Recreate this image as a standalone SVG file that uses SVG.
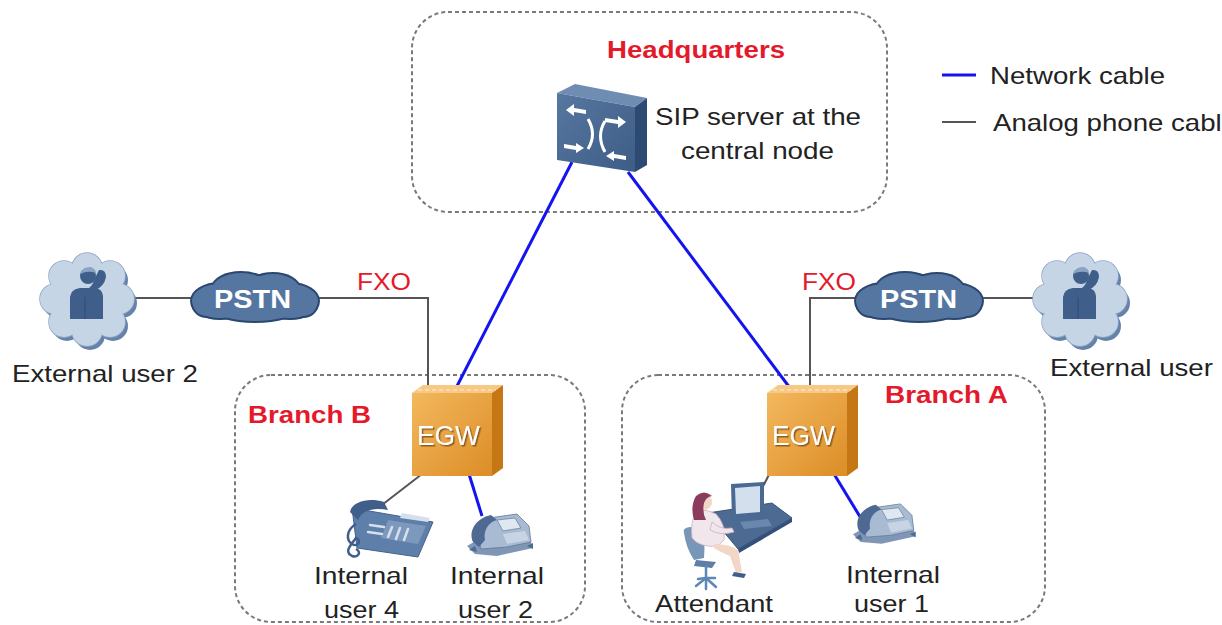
<svg xmlns="http://www.w3.org/2000/svg" xmlns:xlink="http://www.w3.org/1999/xlink" width="1222" height="625" viewBox="0 0 1222 625">
  <style>
    .zone { fill: none; stroke: #7a7a7a; stroke-width: 2; stroke-dasharray: 4 3; }
    .lbl { font-family: "Liberation Sans", Arial, sans-serif; font-size: 24px; fill: #222; }
    .red { font-family: "Liberation Sans", Arial, sans-serif; font-size: 24px; fill: #e4192b; }
    .redb { font-family: "Liberation Sans", Arial, sans-serif; font-size: 23px; font-weight: bold; fill: #e4192b; }
    .net { stroke: #1414f0; stroke-width: 3; fill: none; }
    .analog { stroke: #555; stroke-width: 2; fill: none; }
    .pstn-txt { font-family: "Liberation Sans", Arial, sans-serif; font-size: 25px; font-weight: bold; fill: #fff; }
    .egw-txt { font-family: "Liberation Sans", Arial, sans-serif; font-size: 27px; fill: #fff; }
  </style>
  <defs>
    <linearGradient id="egwFront" x1="0" y1="0" x2="1" y2="1">
      <stop offset="0" stop-color="#f3b85e"/>
      <stop offset="1" stop-color="#dc8d26"/>
    </linearGradient>
    <linearGradient id="swFront" x1="0" y1="0" x2="1" y2="1">
      <stop offset="0" stop-color="#5877a0"/>
      <stop offset="1" stop-color="#3e5d86"/>
    </linearGradient>
    <filter id="txtShadow" x="-10%" y="-10%" width="130%" height="140%">
      <feDropShadow dx="1.5" dy="1.5" stdDeviation="0.6" flood-color="#7a4a10" flood-opacity="0.8"/>
    </filter>
    <!-- PSTN cloud blobs -->
    <g id="pstnBlobs">
      <ellipse cx="0" cy="0" rx="50" ry="22"/>
      <ellipse cx="-35" cy="3" rx="28" ry="17"/>
      <ellipse cx="35" cy="3" rx="28" ry="17"/>
      <ellipse cx="-14" cy="-10" rx="28" ry="15"/>
      <ellipse cx="18" cy="-9" rx="26" ry="15"/>
      <ellipse cx="-48" cy="5" rx="14" ry="13"/>
      <ellipse cx="48" cy="5" rx="14" ry="13"/>
      <ellipse cx="0" cy="10" rx="42" ry="13"/>
    </g>
    <!-- puffy cloud behind a caller -->
    <g id="userBlobs">
      <circle cx="0" cy="0" r="34"/>
      <circle cx="0" cy="-31" r="15"/>
      <circle cx="23" cy="-23" r="15"/>
      <circle cx="32" cy="0" r="15"/>
      <circle cx="23" cy="23" r="15"/>
      <circle cx="0" cy="32" r="15"/>
      <circle cx="-23" cy="23" r="15"/>
      <circle cx="-32" cy="0" r="15"/>
      <circle cx="-23" cy="-23" r="15"/>
    </g>
    <g id="caller">
      <use xlink:href="#userBlobs" transform="translate(3,4)" fill="#6583aa"/>
      <use xlink:href="#userBlobs" fill="#c6d5e5" stroke="#8ea8c6" stroke-width="1.5"/>
      <use xlink:href="#userBlobs" fill="#c6d5e5"/>
      <!-- person on the phone -->
      <path d="M-17,20 L-17,-2 Q-16,-10 -7,-11 L9,-11 Q15,-10 16,-3 L16,20 Z" fill="#3f5f8a"/>
      <path d="M8,-9 Q17,-12 19,-22 Q19,-30 12,-29 L8,-21 Q6,-14 2,-11 Z" fill="#3f5f8a"/>
      <circle cx="1" cy="-23" r="8" fill="#3f5f8a"/>
      <path d="M-7,-25 Q-4,-33 4,-32 Q9,-30 9,-26 Q1,-29 -7,-25 Z" fill="#8aa4c4"/>
      <path d="M-2,-2 L-2,20" stroke="#2e4a70" stroke-width="1"/>
    </g>
    <!-- compact desk phone -->
    <g id="phoneSmall">
      <path d="M0,34 L14,26 L40,22 L64,30 L66,36 L30,44 L8,42 Z" fill="#7f96b6"/>
      <path d="M10,22 L22,6 L50,2 L62,14 L64,30 L40,35 L14,37 Z" fill="#a9bbd2" stroke="#5f7898" stroke-width="0.8"/>
      <path d="M30,8 L48,6 L54,16 L36,19 Z" fill="#dfe7f1" stroke="#6c84a4" stroke-width="0.8"/>
      <path d="M36,22 L58,19 L62,28 L40,32 Z" fill="#c7d4e4"/>
      <path d="M6,30 C1,19 9,6 24,3 L30,8 C22,10 16,18 18,28 L12,35 Z" fill="#4e6a92"/>
      <path d="M2,38 L8,34 L10,40 Z" fill="#4e6a92"/>
      <path d="M60,34 L66,31 L66,37 Z" fill="#4e6a92"/>
    </g>
  </defs>

  <rect width="1222" height="625" fill="#fff"/>

  <!-- zones -->
  <g id="zones">
    <rect class="zone" x="412" y="12" width="475" height="200" rx="36"/>
    <rect class="zone" x="235" y="375" width="350" height="247" rx="36"/>
    <rect class="zone" x="622" y="375" width="423" height="247" rx="36"/>
  </g>

  <!-- connectors -->
  <g id="connectors">
    <line class="net" x1="572" y1="162" x2="455" y2="390"/>
    <line class="net" x1="628" y1="172" x2="790" y2="388"/>
    <polyline class="analog" points="135,298 193,298"/>
    <polyline class="analog" points="318,298 428,298 428,390"/>
    <polyline class="analog" points="980,298 1040,298"/>
    <polyline class="analog" points="858,298 810,298 810,390"/>
    <line class="analog" x1="422" y1="474" x2="378" y2="508"/>
    <line class="net" x1="469" y1="474" x2="482" y2="516"/>
    <line class="analog" x1="774" y1="465" x2="757" y2="498"/>
    <line class="net" x1="834" y1="474" x2="862" y2="520"/>
  </g>

  <!-- legend -->
  <g id="legend">
    <line class="net" x1="942" y1="75" x2="976" y2="75" stroke-width="2.5"/>
    <text class="lbl" x="990" y="84" textLength="175" lengthAdjust="spacingAndGlyphs">Network cable</text>
    <line class="analog" x1="942" y1="122" x2="976" y2="122" stroke-width="2.5"/>
    <text class="lbl" x="993" y="131" textLength="244" lengthAdjust="spacingAndGlyphs">Analog phone cable</text>
  </g>

  <!-- headquarters -->
  <g id="headquarters">
    <text class="redb" x="607" y="58" textLength="178" lengthAdjust="spacingAndGlyphs">Headquarters</text>
  </g>

  <g id="sip-server">
    <polygon points="557,93 575,84 647,98 635,107" fill="#6f8db3"/>
    <polygon points="635,107 647,98 647,165 635,172" fill="#2c4a72"/>
    <polygon points="557,93 635,107 635,172 557,160" fill="url(#swFront)"/>
    <g fill="#fff" stroke="none">
      <path d="M566,110 L574,104 L574,108 L586,110 L586,114 L574,112 L574,116 Z"/>
      <path d="M626,122 L618,116 L618,120 L605,118 L605,122 L618,124 L618,128 Z"/>
      <path d="M584,148 L576,143 L576,146 L564,144 L564,148 L576,150 L576,153 Z"/>
      <path d="M606,156 L614,151 L614,154 L626,156 L626,160 L614,158 L614,161 Z"/>
    </g>
    <path d="M588,119 Q597,134 588,149" stroke="#fff" stroke-width="3" fill="none"/>
    <path d="M605,121 Q596,136 605,152" stroke="#fff" stroke-width="3" fill="none"/>
    <text class="lbl" x="655" y="125" textLength="206" lengthAdjust="spacingAndGlyphs">SIP server at the</text>
    <text class="lbl" x="681" y="159" textLength="153" lengthAdjust="spacingAndGlyphs">central node</text>
  </g>

  <!-- PSTN clouds -->
  <g id="pstn-b">
    <use xlink:href="#pstnBlobs" transform="translate(255,298)" fill="#3a5a84" stroke="#2b4870" stroke-width="4"/>
    <use xlink:href="#pstnBlobs" transform="translate(255,298)" fill="#5576a1"/>
    <text class="pstn-txt" x="214" y="308" textLength="77" lengthAdjust="spacingAndGlyphs">PSTN</text>
  </g>
  <g id="pstn-a">
    <use xlink:href="#pstnBlobs" transform="translate(919,298)" fill="#3a5a84" stroke="#2b4870" stroke-width="4"/>
    <use xlink:href="#pstnBlobs" transform="translate(919,298)" fill="#5576a1"/>
    <text class="pstn-txt" x="880" y="308" textLength="77" lengthAdjust="spacingAndGlyphs">PSTN</text>
  </g>

  <!-- external callers -->
  <g id="external-user-2">
    <use xlink:href="#caller" transform="translate(87,299)"/>
    <text class="lbl" x="12" y="382" textLength="186" lengthAdjust="spacingAndGlyphs">External user 2</text>
  </g>
  <g id="external-user-1">
    <use xlink:href="#caller" transform="translate(1080,299)"/>
    <text class="lbl" x="1050" y="376" textLength="186" lengthAdjust="spacingAndGlyphs">External user 1</text>
  </g>

  <!-- FXO labels -->
  <g id="fxo-labels">
    <text class="red" x="357" y="290" textLength="54" lengthAdjust="spacingAndGlyphs">FXO</text>
    <text class="red" x="802" y="290" textLength="54" lengthAdjust="spacingAndGlyphs">FXO</text>
  </g>

  <!-- Branch B -->
  <g id="branch-b">
    <text class="redb" x="248" y="423" textLength="123" lengthAdjust="spacingAndGlyphs">Branch B</text>
  </g>
  <g id="egw-b">
    <polygon points="412,393 423,385 503,385 492,393" fill="#f7c985"/>
    <polygon points="492,393 503,385 503,468 492,476" fill="#c47714"/>
    <rect x="412" y="393" width="80" height="83" fill="url(#egwFront)"/>
    <line x1="418" y1="390" x2="496" y2="390" stroke="#fff" stroke-width="1" stroke-dasharray="4 3" opacity="0.7"/>
    <text class="egw-txt" x="417" y="445" textLength="63" lengthAdjust="spacingAndGlyphs" filter="url(#txtShadow)">EGW</text>
  </g>
  <g id="internal-user-4">
    <!-- large desk phone -->
    <path d="M352,508 L433,522 L418,557 L357,548 Z" fill="#5f7fab" stroke="#45628c" stroke-width="1"/>
    <path d="M388,520 L426,526 L418,544 L381,538 Z" fill="#7d98bd"/>
    <path d="M402,513 L430,518 L428,522 L400,518 Z" fill="#d6e0ec"/>
    <g stroke="#d6e0ec" stroke-width="2.5" stroke-linecap="round">
      <line x1="392" y1="527" x2="388" y2="537"/>
      <line x1="400" y1="528" x2="396" y2="539"/>
      <line x1="408" y1="529" x2="404" y2="540"/>
      <line x1="370" y1="525" x2="384" y2="527"/>
      <line x1="368" y1="532" x2="382" y2="534"/>
    </g>
    <path d="M350,512 C352,502 368,497 384,502 L388,510 C374,507 362,510 358,520 Z" fill="#3f5f8a"/>
    <path d="M356,524 C346,530 346,540 352,544 C358,548 362,540 356,538 C350,546 344,552 352,556 C358,558 362,552 356,549" fill="none" stroke="#3f5f8a" stroke-width="2.5"/>
    <text class="lbl" x="314" y="584" textLength="94" lengthAdjust="spacingAndGlyphs">Internal</text>
    <text class="lbl" x="324" y="618" textLength="75" lengthAdjust="spacingAndGlyphs">user 4</text>
  </g>
  <g id="internal-user-2">
    <use xlink:href="#phoneSmall" transform="translate(467,512)"/>
    <text class="lbl" x="450" y="584" textLength="94" lengthAdjust="spacingAndGlyphs">Internal</text>
    <text class="lbl" x="458" y="618" textLength="75" lengthAdjust="spacingAndGlyphs">user 2</text>
  </g>

  <!-- Branch A -->
  <g id="branch-a">
    <text class="redb" x="885" y="403" textLength="123" lengthAdjust="spacingAndGlyphs">Branch A</text>
  </g>
  <g id="egw-a">
    <polygon points="767,393 778,385 858,385 847,393" fill="#f7c985"/>
    <polygon points="847,393 858,385 858,468 847,476" fill="#c47714"/>
    <rect x="767" y="393" width="80" height="83" fill="url(#egwFront)"/>
    <line x1="773" y1="390" x2="851" y2="390" stroke="#fff" stroke-width="1" stroke-dasharray="4 3" opacity="0.7"/>
    <text class="egw-txt" x="772" y="445" textLength="63" lengthAdjust="spacingAndGlyphs" filter="url(#txtShadow)">EGW</text>
  </g>
  <g id="attendant">
    <!-- desk and monitor -->
    <polygon points="708,513 772,503 792,518 738,549" fill="#4d6a92" stroke="#3a5478" stroke-width="1"/>
    <polygon points="738,549 792,518 792,522 739,553" fill="#34507a"/>
    <polygon points="731,484 764,482 764,518 732,520" fill="#4a6a94"/>
    <polygon points="735,488 760,486 760,512 736,514" fill="#d3dfec"/>
    <polygon points="740,522 768,519 772,526 744,529" fill="#6a87ae"/>
    <!-- chair -->
    <path d="M684,533 Q682,528 690,527 L700,528 Q706,540 704,558 L694,560 Q686,548 684,533 Z" fill="#7896b8"/>
    <path d="M696,560 L716,562 L712,568 L694,566 Z" fill="#5c7ea8"/>
    <g stroke="#5c88b8" stroke-width="2.5" stroke-linecap="round">
      <line x1="706" y1="566" x2="706" y2="578"/>
      <line x1="706" y1="578" x2="696" y2="586"/>
      <line x1="706" y1="578" x2="716" y2="587"/>
      <line x1="706" y1="578" x2="706" y2="589"/>
      <line x1="706" y1="578" x2="698" y2="579"/>
      <line x1="706" y1="578" x2="715" y2="578"/>
    </g>
    <!-- person -->
    <path d="M696,512 Q690,522 692,538 Q700,548 718,546 L724,540 Q726,524 716,514 Q706,508 696,512 Z" fill="#f1e6ec" stroke="#c9b3c0" stroke-width="0.8"/>
    <path d="M712,522 Q720,530 732,528 L734,532 Q720,536 710,530 Z" fill="#f1e6ec" stroke="#c9b3c0" stroke-width="0.8"/>
    <path d="M714,544 Q730,544 738,550 L742,572 L736,573 L730,556 Q720,552 714,548 Z" fill="#f2d6c6"/>
    <path d="M734,572 L746,574 L744,578 L732,576 Z" fill="#3f5f8a"/>
    <circle cx="704" cy="502" r="8" fill="#f2d6c6"/>
    <path d="M694,520 Q690,506 696,496 Q704,489 712,496 Q706,497 704,503 Q702,512 706,520 Z" fill="#8b3b5c"/>
    <text class="lbl" x="655" y="612" textLength="118" lengthAdjust="spacingAndGlyphs">Attendant</text>
  </g>
  <g id="internal-user-1">
    <use xlink:href="#phoneSmall" transform="translate(853,502) scale(0.95)"/>
    <text class="lbl" x="846" y="583" textLength="94" lengthAdjust="spacingAndGlyphs">Internal</text>
    <text class="lbl" x="854" y="612" textLength="75" lengthAdjust="spacingAndGlyphs">user 1</text>
  </g>
</svg>
